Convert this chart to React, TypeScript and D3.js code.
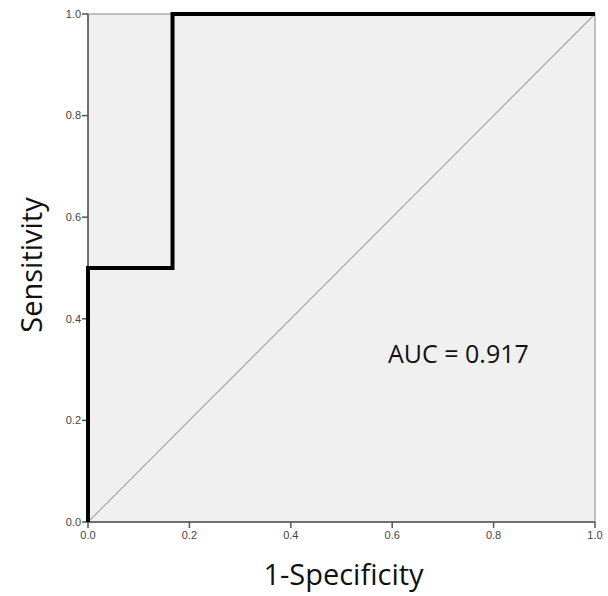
import React from "react";
import * as d3 from "d3";

// ROC curve points (1-specificity, sensitivity)
const fpr = [0, 0, 0.1667, 0.1667, 1];
const tpr = [0, 0.5, 0.5, 1, 1];
const ticks = [0, 0.2, 0.4, 0.6, 0.8, 1.0];
const aucLabel = "AUC = 0.917";
const xTitle = "1-Specificity";
const yTitle = "Sensitivity";

const W = 608;
const H = 596;
const left = 88;
const right = 595;
const top = 14;
const bottom = 522;

export default function App() {
  const x = d3.scaleLinear().domain([0, 1]).range([left, right]);
  const y = d3.scaleLinear().domain([0, 1]).range([bottom, top]);

  const line = d3
    .line<number>()
    .x((d) => x(fpr[d]))
    .y((d) => y(tpr[d]));
  const rocPath = line(fpr.map((_, i) => i)) || "";

  const tickFont = "'Liberation Sans', Arial, sans-serif";
  const titleFont = "'Open Sans', 'Noto Sans', sans-serif";

  return (
    <svg
      width={W}
      height={H}
      style={{ position: "absolute", left: 0, top: 0, background: "#fff" }}
    >
      <rect
        x={left}
        y={top}
        width={right - left}
        height={bottom - top}
        fill="#f0f0f0"
        stroke="#888"
        strokeWidth={1}
      />
      {/* reference diagonal */}
      <line
        x1={x(0)}
        y1={y(0)}
        x2={x(1)}
        y2={y(1)}
        stroke="#a8a8a8"
        strokeWidth={1.2}
      />
      {/* axes */}
      <line x1={left} y1={top} x2={left} y2={bottom} stroke="#555" strokeWidth={1.5} />
      <line x1={left} y1={bottom} x2={right} y2={bottom} stroke="#555" strokeWidth={1.5} />
      {ticks.map((t) => (
        <g key={"y" + t}>
          <line x1={left - 6} x2={left} y1={y(t)} y2={y(t)} stroke="#555" strokeWidth={1.5} />
          <text
            x={left - 7}
            y={y(t)}
            dy="0.35em"
            textAnchor="end"
            fontFamily={tickFont}
            fontSize={11}
            fill="#444"
          >
            {t.toFixed(1)}
          </text>
        </g>
      ))}
      {ticks.map((t) => (
        <g key={"x" + t}>
          <line x1={x(t)} x2={x(t)} y1={bottom} y2={bottom + 6} stroke="#555" strokeWidth={1.5} />
          <text
            x={x(t)}
            y={bottom + 17}
            textAnchor="middle"
            fontFamily={tickFont}
            fontSize={11}
            fill="#444"
          >
            {t.toFixed(1)}
          </text>
        </g>
      ))}
      {/* ROC curve */}
      <path d={rocPath} fill="none" stroke="#000" strokeWidth={4} strokeLinejoin="miter" />
      <text
        x={388}
        y={363}
        fontFamily={titleFont}
        fontSize={25}
        fill="#111"
      >
        {aucLabel}
      </text>
      <text
        x={(left + right) / 2 + 2}
        y={585}
        textAnchor="middle"
        fontFamily={titleFont}
        fontSize={29}
        fill="#111"
      >
        {xTitle}
      </text>
      <text
        transform={`translate(42,265) rotate(-90)`}
        textAnchor="middle"
        fontFamily={titleFont}
        fontSize={29}
        fill="#111"
      >
        {yTitle}
      </text>
    </svg>
  );
}
